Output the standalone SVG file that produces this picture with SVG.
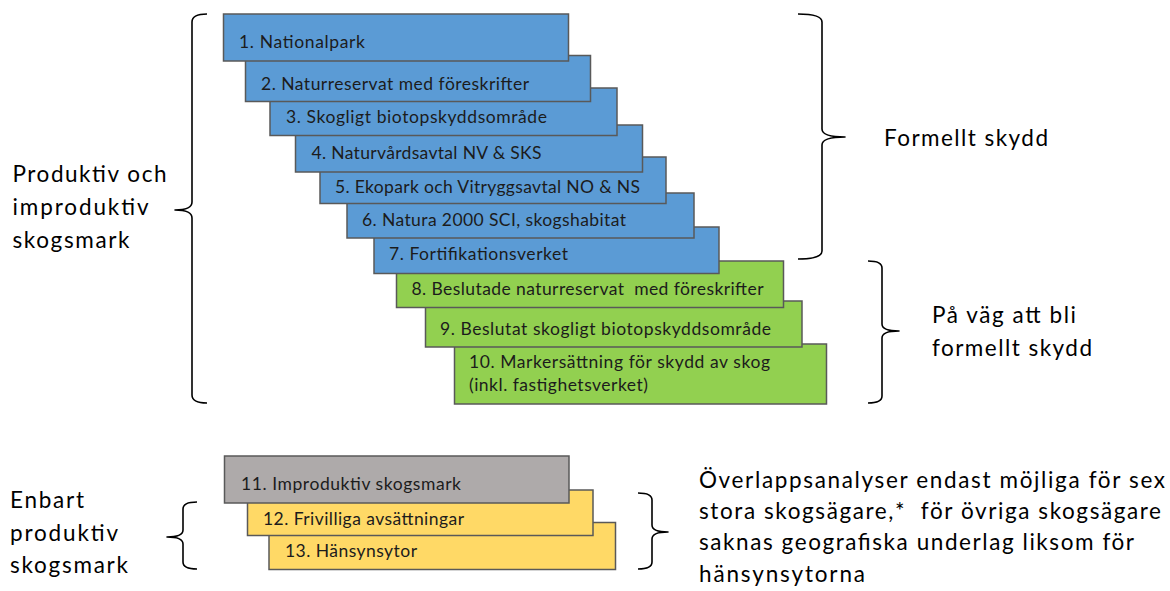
<svg xmlns="http://www.w3.org/2000/svg" width="1170" height="591" viewBox="0 0 1170 591">
<style>
.box{stroke:#595959;stroke-width:1.5}
.blue{fill:#5b9bd5}.green{fill:#92d050}.grey{fill:#aeaaaa}.yellow{fill:#ffd966}
.bt{font-family:Lato,"Liberation Sans",sans-serif;font-size:17.5px;fill:#1c1c1c}
.lbl{font-family:Lato,"Liberation Sans",sans-serif;font-size:22.5px;fill:#000}
.brace{fill:none;stroke:#000;stroke-width:1.6;stroke-linejoin:round}
</style>
<rect width="1170" height="591" fill="#fff"/>
<g id="node10"><rect class="box green" x="454.5" y="344" width="372" height="60"/><text class="bt" x="469" y="368" textLength="301">10. Markersättning för skydd av skog</text><text class="bt" x="469" y="391" textLength="179">(inkl. fastighetsverket)</text></g>
<g id="node9"><rect class="box green" x="425.5" y="301" width="376.5" height="46"/><text class="bt" x="440" y="335" textLength="331">9. Beslutat skogligt biotopskyddsområde</text></g>
<g id="node8"><rect class="box green" x="396.5" y="261" width="387" height="46.5"/><text class="bt" x="411.5" y="295" textLength="352" xml:space="preserve">8. Beslutade naturreservat  med föreskrifter</text></g>
<g id="node7"><rect class="box blue" x="374" y="227" width="345" height="46.5"/><text class="bt" x="389" y="260" textLength="179">7. Fortifikationsverket</text></g>
<g id="node6"><rect class="box blue" x="347" y="193" width="347" height="45"/><text class="bt" x="362" y="226" textLength="264">6. Natura 2000 SCI, skogshabitat</text></g>
<g id="node5"><rect class="box blue" x="320" y="157" width="346" height="46.5"/><text class="bt" x="335" y="193" textLength="305">5. Ekopark och Vitryggsavtal NO &amp; NS</text></g>
<g id="node4"><rect class="box blue" x="295.5" y="125" width="347" height="47"/><text class="bt" x="311.5" y="159" textLength="230">4. Naturvårdsavtal NV &amp; SKS</text></g>
<g id="node3"><rect class="box blue" x="270" y="88" width="347" height="47.5"/><text class="bt" x="286" y="123" textLength="261">3. Skogligt biotopskyddsområde</text></g>
<g id="node2"><rect class="box blue" x="245.5" y="55.5" width="345" height="46"/><text class="bt" x="261" y="90" textLength="268">2. Naturreservat med föreskrifter</text></g>
<g id="node1"><rect class="box blue" x="223.5" y="14" width="345" height="47"/><text class="bt" x="239" y="48" textLength="126">1. Nationalpark</text></g>
<g id="node13"><rect class="box yellow" x="269" y="522.5" width="346.5" height="47"/><text class="bt" x="285" y="557" textLength="132">13. Hänsynsytor</text></g>
<g id="node12"><rect class="box yellow" x="247.5" y="490" width="345.5" height="45.5"/><text class="bt" x="263" y="525" textLength="201">12. Frivilliga avsättningar</text></g>
<g id="node11"><rect class="box grey" x="224.5" y="456" width="344.5" height="47"/><text class="bt" x="241" y="490" textLength="220">11. Improduktiv skogsmark</text></g>
<g id="connectors">
<path class="brace" d="M207,14 Q192,14 192,22 L192,202 Q192,210 175,210 Q192,210 192,218 L192,395 Q192,403 207,403"/>
<path class="brace" d="M197,502 Q183,502 183,509 L183,530 Q183,537 167,537 Q183,537 183,544 L183,562 Q183,569 197,569"/>
<path class="brace" d="M798,14 Q822,14 822,22 L822,129 Q822,137 845,137 Q822,137 822,145 L822,251 Q822,259 798,259"/>
<path class="brace" d="M868,261 Q882,261 882,268 L882,324 Q882,331 899,331 Q882,331 882,338 L882,396 Q882,403 868,403"/>
<path class="brace" d="M638,493 Q652,493 652,500 L652,525 Q652,532 668,532 Q652,532 652,539 L652,562 Q652,569 638,569"/>
</g>
<g id="labels">
<text class="lbl" x="12.5" y="182" textLength="154">Produktiv och</text>
<text class="lbl" x="12.5" y="215" textLength="136">improduktiv</text>
<text class="lbl" x="12.5" y="248" textLength="117">skogsmark</text>
<text class="lbl" x="10" y="508" textLength="74">Enbart</text>
<text class="lbl" x="10" y="541" textLength="108">produktiv</text>
<text class="lbl" x="10" y="573" textLength="118">skogsmark</text>
<text class="lbl" x="884" y="146" textLength="164">Formellt skydd</text>
<text class="lbl" x="932" y="323" textLength="144">På väg att bli</text>
<text class="lbl" x="932" y="356" textLength="160">formellt skydd</text>
<text class="lbl" x="699" y="488" textLength="466">Överlappsanalyser endast möjliga för sex</text>
<text class="lbl" x="699" y="519" textLength="462" xml:space="preserve">stora skogsägare,*  för övriga skogsägare</text>
<text class="lbl" x="699" y="550" textLength="435">saknas geografiska underlag liksom för</text>
<text class="lbl" x="699" y="582" textLength="166">hänsynsytorna</text>
</g>
</svg>
